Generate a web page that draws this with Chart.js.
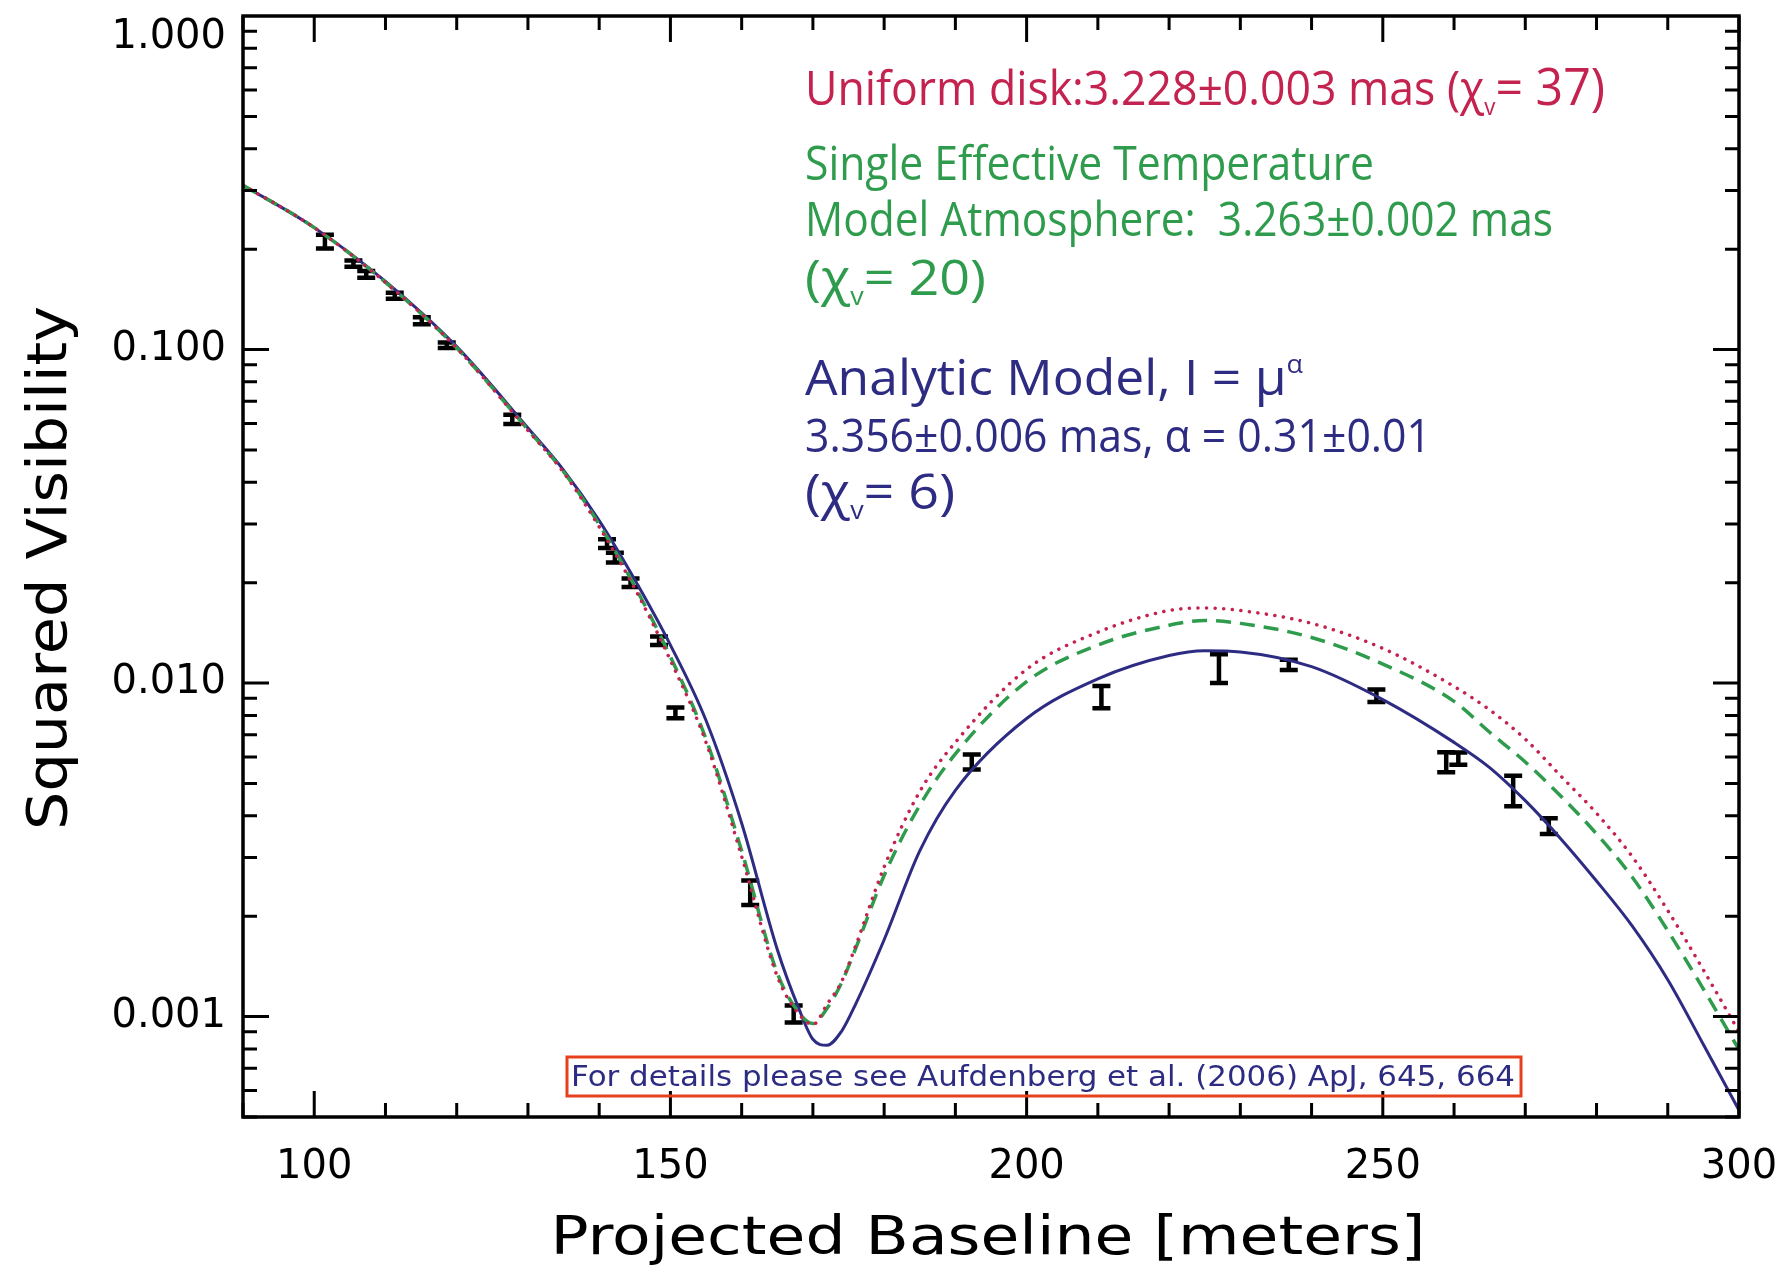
<!DOCTYPE html>
<html>
<head>
<meta charset="utf-8">
<title>Squared Visibility vs Projected Baseline</title>
<script src="https://cdn.jsdelivr.net/npm/chart.js@4.4.1/dist/chart.umd.min.js"></script>
<style>
  html, body { margin: 0; padding: 0; background: #fff; }
  canvas { display: block; }
</style>
</head>
<body>
<canvas id="visChart" width="1788" height="1274"></canvas>
<script>
// model curves at these baselines (meters)
const modelBaseline = [90, 100, 110, 120, 130, 135, 140, 145, 150, 155, 160, 165, 168, 170, 172, 174, 176,
                       180, 185, 190, 200, 210, 220, 225, 230, 240, 250, 260, 265, 270, 275, 280, 285, 290, 295, 300];
const uniformDisk = [0.311, 0.232, 0.159, 0.101, 0.0572, 0.0428, 0.0294, 0.0192, 0.0117, 0.00664, 0.00302, 0.00132,
                     0.00102, 0.000946, 0.00109, 0.00127, 0.00163, 0.00281, 0.00473, 0.00664, 0.0110,
                     0.0142, 0.0165, 0.0168, 0.0165, 0.0151, 0.0127, 0.00977, 0.00831, 0.00679, 0.00526,
                     0.00407, 0.00302, 0.00208, 0.00138, 0.0009];
const modelAtmosphere = [0.311, 0.232, 0.159, 0.101, 0.0575, 0.0430, 0.0299, 0.0195, 0.0120, 0.00679, 0.00314, 0.00135,
                         0.00103, 0.000953, 0.00106, 0.00126, 0.00160, 0.00265, 0.00430, 0.00613, 0.0101,
                         0.0130, 0.0149, 0.0154, 0.0151, 0.0137, 0.0114, 0.00881, 0.00712, 0.00580, 0.00458,
                         0.00353, 0.00262, 0.00181, 0.00121, 0.000796];
const analyticModel = [0.311, 0.232, 0.160, 0.102, 0.0582, 0.0435, 0.0307, 0.0204, 0.0130, 0.00772, 0.00380, 0.00159,
                       0.00106, 0.000855, 0.00082, 0.000902, 0.00109, 0.00170, 0.00314, 0.00477, 0.00783,
                       0.0103, 0.0121, 0.0125, 0.0124, 0.0112, 0.00892, 0.00664, 0.00558, 0.00444, 0.00341,
                       0.00255, 0.00187, 0.00129, 0.000825, 0.000524];

// measured squared visibilities with 1-sigma errors
const obsBaseline = [101.5, 105.5, 107.3, 111.3, 115.1, 118.6, 127.8, 141.1, 142.2, 144.4, 148.4, 150.7,
                     161.2, 167.3, 192.3, 210.5, 227.0, 236.8, 249.1, 258.9, 260.6, 268.3, 273.3];
const obsVis = [0.211, 0.181, 0.168, 0.145, 0.122, 0.103, 0.0618, 0.0262, 0.0238, 0.0200, 0.0134, 0.00815,
                0.00236, 0.00102, 0.00581, 0.0091, 0.0111, 0.01135, 0.00917, 0.0058, 0.00594, 0.00477, 0.00373];
const obsErr = [0.010, 0.004, 0.004, 0.003, 0.003, 0.002, 0.002, 0.0008, 0.0008, 0.0006, 0.0004, 0.0003,
                0.0002, 0.00006, 0.0003, 0.0007, 0.0011, 0.0004, 0.0004, 0.0004, 0.00025, 0.0005, 0.0002];

// axes
const xTickValues = [100, 150, 200, 250, 300];
const xMinorStep = 10;
const yTickValues = [0.001, 0.01, 0.1, 1];
const yTickLabels = ['0.001', '0.010', '0.100', '1.000'];
const yMinorMantissa = [2, 3, 4, 5, 6, 7, 8, 9];

const RED = '#C4224F';
const GREEN = '#2E9C4C';
const NAVY = '#2E2C82';

function toPoints(xs, ys) {
    return xs.map((x, i) => ({x: x, y: ys[i]}));
}

// text drawn squeezed/stretched to the width it has in the figure
function drawParts(ctx, item) {
    let total = 0;
    const widths = item.parts.map(p => {
        ctx.font = (p[3] || '') + ' ' + p[1] + 'px ' + item.family;
        const w = ctx.measureText(p[0]).width;
        total += w;
        return w;
    });
    const sx = item.width / total;
    ctx.save();
    ctx.translate(item.x, item.y);
    if (item.rotate) ctx.rotate(item.rotate);
    ctx.scale(sx, 1);
    ctx.fillStyle = item.color;
    ctx.textBaseline = 'alphabetic';
    let cx = item.center ? -total / 2 : 0;
    item.parts.forEach((p, i) => {
        ctx.font = (p[3] || '') + ' ' + p[1] + 'px ' + item.family;
        ctx.fillText(p[0], cx, p[2] || 0);
        cx += widths[i];
    });
    ctx.restore();
}

const annotations = [
    {color: RED, x: 805, y: 105, width: 800, family: '"Open Sans"',
     parts: [['Uniform disk:3.228±0.003 mas (χ', 48], ['v', 24, 10], ['= 37)', 52]]},
    {color: GREEN, x: 805, y: 180, width: 569, family: '"Open Sans"',
     parts: [['Single Effective Temperature', 48]]},
    {color: GREEN, x: 805, y: 236, width: 748, family: '"Open Sans"',
     parts: [['Model Atmosphere:  3.263±0.002 mas', 48]]},
    {color: GREEN, x: 805, y: 295, width: 181, family: '"Open Sans"',
     parts: [['(χ', 50], ['v', 25, 10], ['= 20)', 50]]},
    {color: NAVY, x: 805, y: 395, width: 498, family: '"Open Sans"',
     parts: [['Analytic Model, I = μ', 50, 0, '500'], ['α', 26, -22]]},
    {color: NAVY, x: 805, y: 452, width: 626, family: '"Open Sans"',
     parts: [['3.356±0.006 mas, α = 0.31±0.01', 46]]},
    {color: NAVY, x: 805, y: 509, width: 150, family: '"Open Sans"',
     parts: [['(χ', 50], ['v', 25, 10], ['= 6)', 50]]},
    {color: NAVY, x: 571, y: 1086, width: 944, family: '"DejaVu Sans"',
     parts: [['For details please see Aufdenberg et al. (2006) ApJ, 645, 664', 29]]},
    {color: '#000', x: 988, y: 1254, width: 875, family: '"DejaVu Sans"', center: true,
     parts: [['Projected Baseline [meters]', 54]]},
    {color: '#000', x: 66, y: 568, width: 524, family: '"DejaVu Sans"', center: true, rotate: -Math.PI / 2,
     parts: [['Squared Visibility', 56]]}
];

const errorBars = {
    id: 'errorBars',
    beforeDatasetsDraw(chart) {
        const {ctx, scales: {x, y}} = chart;
        ctx.save();
        ctx.strokeStyle = '#000';
        ctx.lineWidth = 4.5;
        obsBaseline.forEach((b, i) => {
            const px = x.getPixelForValue(b);
            const top = y.getPixelForValue(obsVis[i] + obsErr[i]);
            const bot = y.getPixelForValue(obsVis[i] - obsErr[i]);
            ctx.beginPath();
            ctx.moveTo(px, top);
            ctx.lineTo(px, bot);
            ctx.moveTo(px - 9, top);
            ctx.lineTo(px + 9, top);
            ctx.moveTo(px - 9, bot);
            ctx.lineTo(px + 9, bot);
            ctx.stroke();
        });
        ctx.restore();
    }
};

// IDL style box with inward ticks on all four sides, plus the text
const frame = {
    id: 'frame',
    afterDraw(chart) {
        const {ctx, chartArea: a, scales: {x, y}} = chart;
        ctx.save();
        ctx.strokeStyle = '#000';
        ctx.lineWidth = 3.5;
        ctx.strokeRect(a.left, a.top, a.right - a.left, a.bottom - a.top);
        ctx.lineWidth = 3;
        ctx.beginPath();
        for (let v = x.min; v <= x.max; v += xMinorStep) {
            const px = x.getPixelForValue(v);
            const len = xTickValues.includes(v) ? 26 : 14;
            ctx.moveTo(px, a.bottom);
            ctx.lineTo(px, a.bottom - len);
            ctx.moveTo(px, a.top);
            ctx.lineTo(px, a.top + len);
        }
        yTickValues.forEach(dec => {
            [1].concat(yMinorMantissa).forEach(m => {
                const v = dec * m / 10;
                if (v < y.min || v > y.max) return;
                const py = y.getPixelForValue(v);
                const len = m === 1 ? 26 : 14;
                ctx.moveTo(a.left, py);
                ctx.lineTo(a.left + len, py);
                ctx.moveTo(a.right, py);
                ctx.lineTo(a.right - len, py);
            });
        });
        ctx.stroke();

        // reference box at the bottom
        ctx.strokeStyle = '#E8401C';
        ctx.lineWidth = 3;
        ctx.strokeRect(567, 1057, 954, 39);
        ctx.restore();

        annotations.forEach(item => drawParts(ctx, item));
    }
};

const ctx = document.getElementById('visChart').getContext('2d');
new Chart(ctx, {
    type: 'line',
    data: {
        datasets: [
            {
                label: 'Uniform disk',
                data: toPoints(modelBaseline, uniformDisk),
                borderColor: RED,
                borderWidth: 3.5,
                borderDash: [0.1, 8.5],
                borderCapStyle: 'round',
                pointRadius: 0,
                cubicInterpolationMode: 'monotone',
                fill: false
            },
            {
                label: 'Model atmosphere',
                data: toPoints(modelBaseline, modelAtmosphere),
                borderColor: GREEN,
                borderWidth: 3.5,
                borderDash: [15, 9],
                pointRadius: 0,
                cubicInterpolationMode: 'monotone',
                fill: false
            },
            {
                label: 'Analytic model',
                data: toPoints(modelBaseline, analyticModel),
                borderColor: NAVY,
                borderWidth: 3,
                pointRadius: 0,
                cubicInterpolationMode: 'monotone',
                fill: false
            },
            {
                label: 'Observed',
                data: toPoints(obsBaseline, obsVis),
                showLine: false,
                pointRadius: 0,
                borderColor: '#000'
            }
        ]
    },
    options: {
        responsive: false,
        animation: false,
        layout: { padding: { top: 16, right: 49, left: 0, bottom: 0 } },
        plugins: { legend: { display: false }, tooltip: { enabled: false } },
        scales: {
            x: {
                type: 'linear',
                min: 90,
                max: 300,
                afterBuildTicks: s => { s.ticks = xTickValues.map(v => ({value: v})); },
                afterFit: s => { s.height = 157; s.paddingLeft = 0; s.paddingRight = 0; },
                grid: { display: false, drawTicks: false },
                border: { display: false },
                ticks: {
                    color: '#000',
                    font: { family: '"DejaVu Sans"', size: 40 },
                    padding: 27,
                    maxRotation: 0,
                    autoSkip: false
                }
            },
            y: {
                type: 'logarithmic',
                min: 0.0005,
                max: 1,
                afterBuildTicks: s => { s.ticks = yTickValues.map(v => ({value: v})); },
                afterFit: s => { s.width = 243; s.paddingTop = 0; s.paddingBottom = 0; },
                grid: { display: false, drawTicks: false },
                border: { display: false },
                ticks: {
                    color: '#000',
                    font: { family: '"DejaVu Sans"', size: 40, lineHeight: 1.1 },
                    padding: 17,
                    autoSkip: false,
                    callback: v => {
                        const label = yTickLabels[yTickValues.indexOf(v)];
                        return v === 1 ? ['', label] : label;
                    }
                }
            }
        }
    },
    plugins: [errorBars, frame]
});
</script>
</body>
</html>
